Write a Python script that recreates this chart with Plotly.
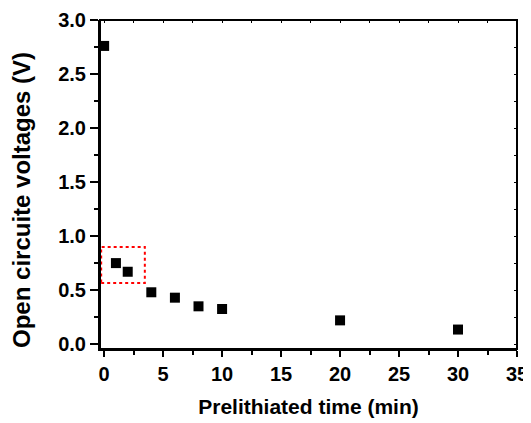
import plotly.graph_objects as go

# Data
time_min = [0, 1, 2, 4, 6, 8, 10, 20, 30]
ocv_v = [2.76, 0.75, 0.67, 0.48, 0.43, 0.35, 0.325, 0.22, 0.135]

x_ticks = [0, 5, 10, 15, 20, 25, 30, 35]
y_ticks = [0.0, 0.5, 1.0, 1.5, 2.0, 2.5, 3.0]

x_title = "Prelithiated time (min)"
y_title = "Open circuite voltages (V)"

# highlight box (data coordinates)
box_x = [-0.25, 3.45]
box_y = [0.565, 0.90]

x_range = [-0.35, 35]
y_range = [-0.045, 3.0]

font_family = "Liberation Sans, Arial, sans-serif"

fig = go.Figure()
fig.add_trace(go.Scatter(
    x=time_min, y=ocv_v, mode="markers",
    marker=dict(symbol="square", size=10, color="black"),
    showlegend=False, hoverinfo="skip",
))
# transparent trace on mirror axes (inner top/right ticks)
fig.add_trace(go.Scatter(x=time_min, y=ocv_v, xaxis="x2", yaxis="y2", mode="markers",
                         marker=dict(opacity=0), showlegend=False, hoverinfo="skip"))

fig.add_shape(type="rect", xref="x", yref="y",
              x0=box_x[0], x1=box_x[1], y0=box_y[0], y1=box_y[1],
              line=dict(color="red", width=2, dash="dot"))
# plot frame
fig.add_shape(type="rect", xref="paper", yref="paper", x0=0, x1=1, y0=0, y1=1,
              line=dict(color="black", width=2), layer="above")

# y-axis title as rotated annotation (slightly below axis centre, as in the reference)
fig.add_annotation(text=f"<b>{y_title}</b>", textangle=-90, showarrow=False,
                   xref="paper", yref="paper", x=0, y=0.453, xanchor="center", yanchor="middle",
                   xshift=-78, font=dict(family=font_family, size=24, color="black"))

tick_font = dict(family=font_family, size=20, color="black")

# page body has an 8px margin: figure is sized to fit the 531x423 window
fig.update_layout(
    width=523, height=415,
    margin=dict(l=92, r=14, t=12, b=74, autoexpand=False),
    paper_bgcolor="white", plot_bgcolor="white",
    font=dict(family=font_family, color="black"),
    xaxis=dict(
        range=x_range, tickvals=x_ticks, ticktext=[f"<b>{v}</b>" for v in x_ticks],
        ticks="outside", ticklen=6, tickwidth=1.5, tickcolor="black",
        minor=dict(dtick=2.5, tick0=0, ticks="outside", ticklen=3.5, tickwidth=1.5, tickcolor="black"),
        showline=True, linewidth=2, linecolor="black",
        showgrid=False, zeroline=False, automargin=False,
        tickfont=tick_font,
        title=dict(text=f"<b>{x_title}</b>", font=dict(family=font_family, size=21, color="black"), standoff=15),
    ),
    yaxis=dict(
        range=y_range, tickvals=y_ticks, ticktext=[f"<b>{v:.1f}</b>" for v in y_ticks],
        ticks="outside", ticklen=8, tickwidth=1.5, tickcolor="black",
        minor=dict(dtick=0.25, tick0=0, ticks="outside", ticklen=4, tickwidth=1.5, tickcolor="black"),
        showline=True, linewidth=2, linecolor="black",
        showgrid=False, zeroline=False, automargin=False,
        tickfont=tick_font,
    ),
    xaxis2=dict(
        overlaying="x", side="top", anchor="y", range=x_range, dtick=2.5, tick0=0,
        ticks="inside", ticklen=3, tickwidth=1, tickcolor="black",
        showticklabels=False, showline=False, showgrid=False, zeroline=False,
    ),
    yaxis2=dict(
        overlaying="y", side="right", anchor="x", range=y_range, dtick=0.25, tick0=0,
        ticks="inside", ticklen=3, tickwidth=1, tickcolor="black",
        showticklabels=False, showline=False, showgrid=False, zeroline=False,
    ),
)

fig.write_html("out.html")
